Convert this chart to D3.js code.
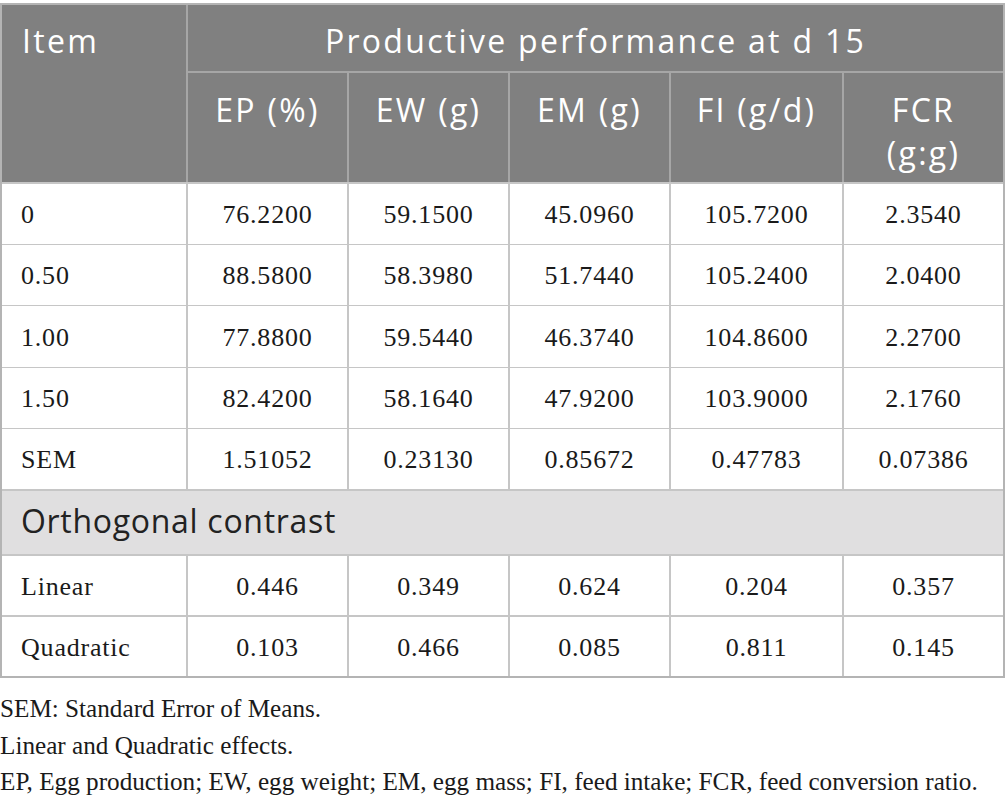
<!DOCTYPE html>
<html>
<head>
<meta charset="utf-8">
<script src="https://cdn.jsdelivr.net/npm/d3@7"></script>
<style>
  html, body { margin: 0; padding: 0; background: #fff; }
  svg { display: block; }
</style>
</head>
<body>
<svg id="table"></svg>
<script>
// table content
const columns = ['EP (%)', 'EW (g)', 'EM (g)', 'FI (g/d)', 'FCR (g:g)'];
const groupTitle = 'Productive performance at d 15';
const levels = ['0', '0.50', '1.00', '1.50', 'SEM'];
const ep = ['76.2200', '88.5800', '77.8800', '82.4200', '1.51052'];
const ew = ['59.1500', '58.3980', '59.5440', '58.1640', '0.23130'];
const em = ['45.0960', '51.7440', '46.3740', '47.9200', '0.85672'];
const fi = ['105.7200', '105.2400', '104.8600', '103.9000', '0.47783'];
const fcr = ['2.3540', '2.0400', '2.2700', '2.1760', '0.07386'];
const contrastTitle = 'Orthogonal contrast';
const contrasts = ['Linear', 'Quadratic'];
const pLinear = ['0.446', '0.349', '0.624', '0.204', '0.357'];
const pQuadratic = ['0.103', '0.466', '0.085', '0.811', '0.145'];
const notes = [
  'SEM: Standard Error of Means.',
  'Linear and Quadratic effects.',
  'EP, Egg production; EW, egg weight; EM, egg mass; FI, feed intake; FCR, feed conversion ratio.'
];

const W = 1005, H = 805;
const colEdges = [1, 187, 348, 509, 670, 843, 1004];
const headTop = 4, headMid = 72, headBot = 183;
const bodyBot = 490, bandBot = 555, tableBot = 677;

const sans = "'Open Sans', sans-serif";
const serif = "'Liberation Serif', 'Times New Roman', serif";
const headFill = '#808080', bandFill = '#e0dfe0';
const lineOnWhite = '#c6c6c6', lineOnGrey = '#a6a6a6';

const svg = d3.select('#table').attr('width', W).attr('height', H);

// row positions from scales
const yBody = d3.scaleBand().domain(levels).range([headBot, bodyBot]);
const yContrast = d3.scaleBand().domain(contrasts).range([bandBot, tableBot]);

const cols = [ep, ew, em, fi, fcr];
const xCol = i => colEdges[i + 1];
const wCol = i => colEdges[i + 2] - colEdges[i + 1];

// header background
svg.append('rect').attr('x', colEdges[0]).attr('y', headTop)
  .attr('width', colEdges[6] - colEdges[0]).attr('height', headBot - headTop)
  .attr('fill', headFill);

// band background
svg.append('rect').attr('x', colEdges[0]).attr('y', bodyBot)
  .attr('width', colEdges[6] - colEdges[0]).attr('height', bandBot - bodyBot)
  .attr('fill', bandFill);

// header lines
const gl = svg.append('g').attr('stroke-width', 1.2).attr('shape-rendering', 'crispEdges');
gl.append('line').attr('x1', colEdges[1]).attr('x2', colEdges[6])
  .attr('y1', headMid).attr('y2', headMid).attr('stroke', lineOnGrey);
gl.append('line').attr('x1', colEdges[1]).attr('x2', colEdges[1])
  .attr('y1', headTop).attr('y2', headBot).attr('stroke', lineOnGrey);
gl.selectAll('.hv').data(d3.range(2, 6)).join('line')
  .attr('x1', d => colEdges[d]).attr('x2', d => colEdges[d])
  .attr('y1', headMid).attr('y2', headBot).attr('stroke', lineOnGrey);

// body lines
const rowLines = levels.map(d => yBody(d)).concat([bodyBot, bandBot, yContrast('Quadratic'), tableBot]);
gl.selectAll('.hz').data(rowLines).join('line')
  .attr('x1', colEdges[0]).attr('x2', colEdges[6])
  .attr('y1', d => d).attr('y2', d => d).attr('stroke', lineOnWhite);
gl.selectAll('.vb').data(colEdges.slice(1, 6)).join('line')
  .attr('x1', d => d).attr('x2', d => d)
  .attr('y1', headBot).attr('y2', bodyBot).attr('stroke', lineOnWhite);
gl.selectAll('.vc').data(colEdges.slice(1, 6)).join('line')
  .attr('x1', d => d).attr('x2', d => d)
  .attr('y1', bandBot).attr('y2', tableBot).attr('stroke', lineOnWhite);
// outer border
gl.append('rect').attr('x', colEdges[0]).attr('y', headTop)
  .attr('width', colEdges[6] - colEdges[0]).attr('height', tableBot - headTop)
  .attr('fill', 'none').attr('stroke', '#b4b4b4');

// header text
const ht = svg.append('g').attr('font-family', sans).attr('font-size', 32)
  .attr('letter-spacing', 2.3).attr('fill', '#fff');
ht.append('text').attr('x', 22).attr('y', 53).text('Item');
ht.append('text').attr('x', (colEdges[1] + colEdges[6]) / 2).attr('y', 53)
  .attr('text-anchor', 'middle').text(groupTitle);
columns.forEach((c, i) => {
  const cx = xCol(i) + wCol(i) / 2;
  const t = ht.append('text').attr('text-anchor', 'middle').attr('x', cx).attr('y', 122);
  if (c === 'FCR (g:g)') {
    t.append('tspan').attr('x', cx).text('FCR');
    t.append('tspan').attr('x', cx).attr('dy', 43).text('(g:g)');
  } else {
    t.text(c);
  }
});

// body text
const bt = svg.append('g').attr('font-family', serif).attr('font-size', 26)
  .attr('letter-spacing', 0.8).attr('fill', '#1a1a1a');
levels.forEach((lv, r) => {
  const y = yBody(lv) + yBody.bandwidth() / 2 + 9;
  bt.append('text').attr('x', 21).attr('y', y).text(lv);
  cols.forEach((vals, i) => {
    bt.append('text').attr('text-anchor', 'middle')
      .attr('x', xCol(i) + wCol(i) / 2).attr('y', y).text(vals[r]);
  });
});

svg.append('text').attr('x', 21).attr('y', 533)
  .attr('font-family', sans).attr('font-size', 32).attr('letter-spacing', 0.7)
  .attr('fill', '#222').text(contrastTitle);

[pLinear, pQuadratic].forEach((vals, r) => {
  const c = contrasts[r];
  const y = yContrast(c) + yContrast.bandwidth() / 2 + 9;
  bt.append('text').attr('x', 21).attr('y', y).text(c);
  vals.forEach((v, i) => {
    bt.append('text').attr('text-anchor', 'middle')
      .attr('x', xCol(i) + wCol(i) / 2).attr('y', y).text(v);
  });
});

// footnotes
svg.append('g').attr('font-family', serif).attr('font-size', 25.2).attr('fill', '#1a1a1a')
  .selectAll('text').data(notes).join('text')
  .attr('x', 0).attr('y', (d, i) => 717 + i * 36.5)
  .text(d => d);
</script>
</body>
</html>
